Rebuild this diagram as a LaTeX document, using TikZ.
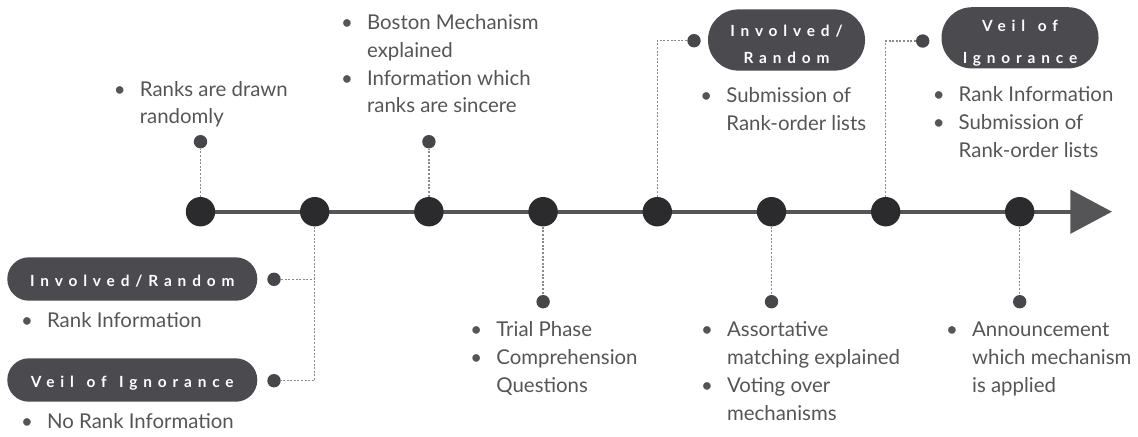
\documentclass[tikz,border=0pt]{standalone}
\usepackage{fontspec}
\setmainfont{Lato}
\newfontfamily\pillfont[LetterSpace=38]{Lato}
\usetikzlibrary{arrows.meta,backgrounds}
\definecolor{axisc}{HTML}{555558}
\definecolor{dotc}{HTML}{2B2B2D}
\definecolor{smalldotc}{HTML}{47474B}
\definecolor{pillc}{HTML}{4A4A4F}
\definecolor{textc}{HTML}{555555}
\definecolor{connc}{HTML}{8A8A8A}
\newcommand\bl{\makebox[0pt]{\textbullet}\hspace*{10pt}}
\newcommand\cl{\hspace*{10pt}}
\newcommand\wsp{\ \hspace{1.5pt}}
\newcommand\tallstrut[1]{\rule{0pt}{#1}}
\begin{document}
\begin{tikzpicture}[x=0.5pt,y=-0.5pt,
  bigdot/.style={circle,fill=dotc,minimum size=14.7pt,inner sep=0pt},
  smalldot/.style={circle,fill=smalldotc,minimum size=6.7pt,inner sep=0pt},
  conn/.style={draw=connc,line width=0.7pt,dash pattern=on 1pt off 0.8pt},
  axisline/.style={draw=axisc,line width=2pt,-{Triangle[length=20.85pt,width=21.65pt]}},
  txt/.style={text=textc,align=left,inner sep=0pt,anchor=base west,font=\fontsize{10.2}{13.9}\selectfont},
  pill/.style={fill=pillc,text=white,inner sep=0pt,align=center,
    font=\pillfont\bfseries\fontsize{7.7}{13.85}\selectfont},
  widepill/.style={pill,minimum width=125pt,minimum height=21.7pt,rounded corners=10.8pt,text height=7pt,text depth=0pt},
  tallpill/.style={pill,minimum width=78.5pt,minimum height=30.6pt,rounded corners=15.2pt}
]
\useasboundingbox (0,0) rectangle (1138,436);

% timeline dots
\node[bigdot] (d1) at (200.5,211.7) {};
\node[bigdot] (d2) at (314.7,211.7) {};
\node[bigdot] (d3) at (428.9,211.7) {};
\node[bigdot] (d4) at (543.1,211.7) {};
\node[bigdot] (d5) at (657.3,211.7) {};
\node[bigdot] (d6) at (771.5,211.7) {};
\node[bigdot] (d7) at (885.7,211.7) {};
\node[bigdot] (d8) at (1019.7,211.7) {};
\coordinate (tip) at (1112,211.7);

\begin{scope}[on background layer]
  \draw[axisline] (d1.center) -- (tip);
\end{scope}

% small dots
\node[smalldot] (s1) at (200.5,141.7) {};
\node[smalldot] (s3) at (428.9,141.7) {};
\node[smalldot] (s4) at (543.1,301.7) {};
\node[smalldot] (s6) at (771.5,301.7) {};
\node[smalldot] (s8) at (1019.7,301.7) {};
\node[smalldot] (s5) at (694,40.7) {};
\node[smalldot] (s7) at (922.7,41) {};
\node[smalldot] (sa) at (274,279.3) {};
\node[smalldot] (sb) at (274,380.7) {};

% connectors
\draw[conn] (d1) -- (s1);
\draw[conn] (d3) -- (s3);
\draw[conn] (d4) -- (s4);
\draw[conn] (d6) -- (s6);
\draw[conn] (d8) -- (s8);
\draw[conn] (d5) |- (s5);
\draw[conn] (d7) |- (s7);
\draw[conn] (d2) |- (sb);
\draw[conn] (sa) -- (sa -| d2.center);

% pills
\node[widepill] (p1) at (132.3,279) {Involved/Random};
\node[widepill] (p2) at (132.3,380) {Veil\wsp of\wsp Ignorance};
\node[tallpill] (p3) at (786.5,40) {\tallstrut{10pt}Involved/\\Random};
\node[tallpill] (p4) at (1020,37.8) {\tallstrut{11pt}Veil\wsp of\\[2.3pt]Ignorance};

% texts (anchored at the baseline of the last line)
\node[txt] (t1) at (119.5,123.8) {\bl Ranks are drawn\\\cl randomly};
\node[txt] (t2) at (346.7,112.9) {\bl Boston Mechanism\\\cl explained\\\bl Information which\\\cl ranks are sincere};
\node[txt] (t3) at (706,130.3) {\bl Submission of\\\cl Rank-order lists};
\node[txt] (t4) at (938.3,157.3) {\bl Rank Information\\\bl Submission of\\\cl Rank-order lists};
\node[txt] (tl1) at (26.7,327.3) {\bl Rank Information};
\node[txt] (tl2) at (26.7,428.3) {\bl No Rank Information};
\node[txt] (t5) at (476,392.3) {\bl Trial Phase\\\bl Comprehension\\\cl Questions};
\node[txt] (t6) at (706.7,420.1) {\bl Assortative\\\cl matching explained\\\bl Voting over\\\cl mechanisms};
\node[txt] (t7) at (951.7,392.3) {\bl Announcement\\\cl which mechanism\\\cl is applied};
\end{tikzpicture}
\end{document}
